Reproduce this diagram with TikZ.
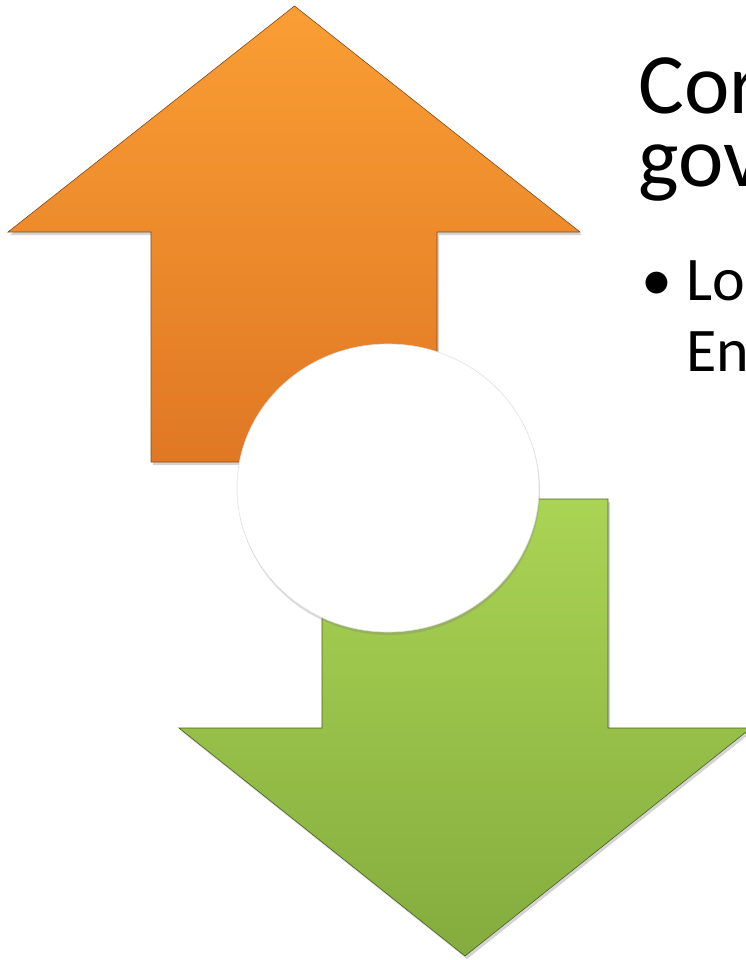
\documentclass[tikz,border=0pt]{standalone}
\usepackage{fontspec}
\setmainfont{Carlito}
\usetikzlibrary{shadows}
\definecolor{orTop}{RGB}{250,158,52}
\definecolor{orBot}{RGB}{224,120,36}
\definecolor{grTop}{RGB}{170,212,84}
\definecolor{grBot}{RGB}{132,172,62}
\tikzset{
  orangearrow/.style={top color=orTop, bottom color=orBot, draw=orBot!60!black, line width=0.6pt, line join=miter,
    drop shadow={shadow xshift=2pt, shadow yshift=-3pt, opacity=0.35}},
  greenarrow/.style={top color=grTop, bottom color=grBot, draw=grBot!55!black, line width=0.6pt, line join=miter,
    drop shadow={shadow xshift=2pt, shadow yshift=-3pt, opacity=0.35}},
  disc/.style={fill=white, draw=black!12, line width=0.6pt,
    drop shadow={shadow xshift=1pt, shadow yshift=-3pt, opacity=0.3}},
  titletext/.style={anchor=base west, inner sep=0pt, font=\fontsize{86}{72}\selectfont},
  bodytext/.style={anchor=base west, inner sep=0pt, font=\fontsize{62}{71}\selectfont}
}
\begin{document}
\begin{tikzpicture}[x=1pt, y=-1pt]
\useasboundingbox (0,0) rectangle (746,960);
\clip (0,0) rectangle (746,960);
% orange up arrow
\path[orangearrow] (294.5,6) -- (580,232) -- (437,232) -- (437,462) -- (151,462) -- (151,232) -- (8,232) -- cycle;
% green down arrow
\path[greenarrow] (465,956) -- (751,728) -- (608,728) -- (608,499) -- (322,499) -- (322,728) -- (179,728) -- cycle;
% white disc
\path[disc] (388,488) ellipse [x radius=151, y radius=144];
% text
\node[titletext] (t1) at (638,114) {Cor};
\node[titletext] (t2) at (638,186) {gov};
\node[bodytext] (b) at (641,300) {•};
\node[bodytext] (l1) at (686,300) {Lo};
\node[bodytext] (l2) at (686,371) {En};
\end{tikzpicture}
\end{document}
